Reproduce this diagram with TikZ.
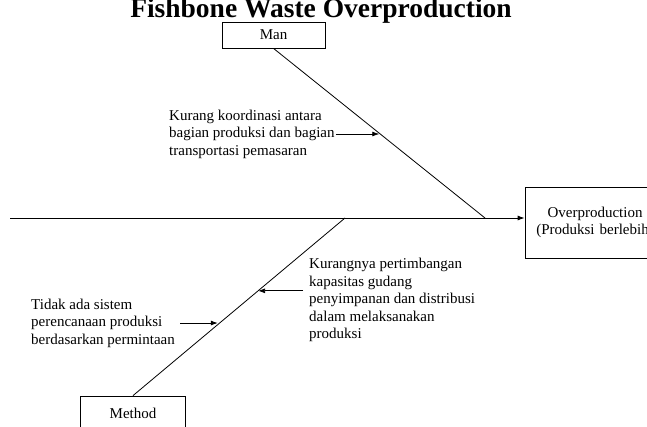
\documentclass[tikz,border=0pt]{standalone}
\usepackage{fontspec}
\setmainfont{Liberation Serif}
\usetikzlibrary{arrows.meta, positioning, calc}

\begin{document}
\begin{tikzpicture}[
  x=1pt, y=-1pt,
  box/.style  = {rectangle, draw=black, thick, text centered,
                 font=\fontsize{15}{17.5}\selectfont, align=center},
  note/.style = {align=left, inner sep=1pt, font=\fontsize{15}{17.5}\selectfont},
  bone/.style = {draw=black, thick},
  arr/.style  = {-{Latex[length=7pt,width=5pt]}, thick},
]
  \clip (0,0) rectangle (647,426);
  \useasboundingbox (0,0) rectangle (647,426);

  \node[font=\bfseries\fontsize{27.5}{32}\selectfont] (title) at (321,11) {Fishbone Waste Overproduction};

  \node[box, minimum width=103pt, minimum height=26pt] (man) at (273.5,35) {Man};
  \node[box, minimum width=140pt, minimum height=71pt, text width=130pt, xshift=-3pt] (over) at (598,222.5) {Overproduction\\(Produksi berlebih)};
  \node[box, minimum width=105pt, minimum height=34pt] (method) at (133,413) {Method};

  \coordinate (spine) at (10,218);
  \coordinate (manend) at (485,218);
  \coordinate (methodend) at (345,218);

  % tulang utama
  \draw[arr] (spine) -- (spine -| over.west);
  \draw[bone] (man.south) -- (manend);
  \draw[bone] (methodend) -- (method.north);

  % sebab
  \node[note, anchor=west] (kurang) at (168,134)
    {Kurang koordinasi antara\\bagian produksi dan bagian\\transportasi pemasaran};
  \node[note, anchor=west] (kurangnya) at (308,300)
    {Kurangnya pertimbangan\\kapasitas gudang\\penyimpanan dan distribusi\\dalam melaksanakan\\produksi};
  \node[note, anchor=west] (tidak) at (30,323)
    {Tidak ada sistem\\perencanaan produksi\\berdasarkan permintaan};

  \coordinate (k1) at ($(man.south)!0.5!(manend)$);
  \coordinate (m1) at ($(methodend)!0.41!(method.north)$);
  \coordinate (m2) at ($(methodend)!0.6!(method.north)$);

  \draw[arr] (kurang.east) -- (kurang.east -| k1);
  \draw[arr] ([xshift=-5pt]kurangnya.west |- m1) -- (m1);
  \draw[arr] ([xshift=4pt]tidak.east) -- (tidak.east -| m2);
\end{tikzpicture}
\end{document}
